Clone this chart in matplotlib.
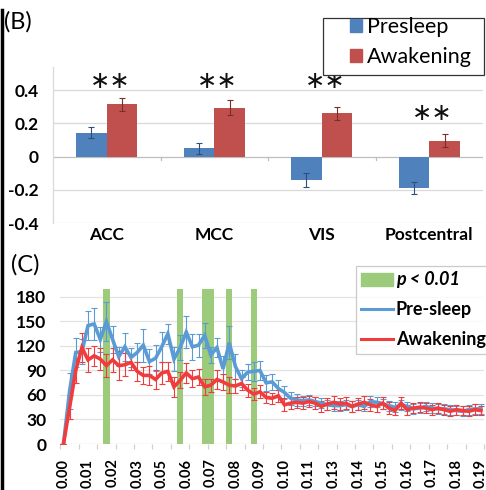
import matplotlib
matplotlib.use("Agg")
import matplotlib.pyplot as plt
import matplotlib.lines as mlines
import matplotlib.patches as mpatches
import numpy as np

plt.rcParams['font.family'] = ['Lato', 'DejaVu Sans']

# ---------------- Panel B data ----------------
regions = ["ACC", "MCC", "VIS", "Postcentral"]
presleep = [0.145, 0.05, -0.14, -0.19]
presleep_err = [0.035, 0.033, 0.042, 0.038]
awakening = [0.315, 0.295, 0.26, 0.095]
awakening_err = [0.04, 0.045, 0.037, 0.04]
star_y = [0.458, 0.458, 0.458, 0.262]
b_yticks = [-0.4, -0.2, 0, 0.2, 0.4]
b_yticklabels = ["-0.4", "-0.2", "0", "0.2", "0.4"]

# ---------------- Panel C data ----------------
pre_sleep = [0, 65, 112, 113, 145, 147, 128, 150, 128, 107,
             119, 106, 112, 121, 101, 105, 119, 135, 104, 118,
             137, 119, 121, 133, 109, 118, 92, 124, 95, 80,
             88, 89, 90, 75, 76, 68, 63, 56, 54, 53,
             54, 52, 50, 48, 47, 47, 48, 46, 48, 46,
             52, 51, 49, 47, 45, 48, 46, 43, 44, 46,
             44, 43, 43, 42, 41, 40, 42, 43, 43]
pre_sleep_err = [0, 22, 18, 15, 18, 20, 15, 24, 16, 12,
                 17, 12, 12, 20, 15, 16, 18, 12, 15, 15,
                 20, 16, 14, 15, 10, 12, 16, 20, 15, 10,
                 10, 12, 12, 10, 10, 10, 8, 8, 7, 6,
                 6, 6, 6, 6, 6, 6, 6, 7, 6, 6,
                 7, 6, 6, 6, 6, 6, 6, 6, 6, 6,
                 6, 6, 6, 6, 6, 6, 6, 6, 6]
awakening_c = [0, 45, 90, 118, 103, 108, 104, 96, 103, 96,
               97, 100, 89, 84, 84, 79, 87, 89, 70, 78,
               87, 80, 82, 70, 72, 79, 76, 72, 71, 74,
               66, 61, 64, 57, 56, 59, 48, 50, 51, 50,
               52, 50, 46, 49, 51, 49, 50, 46, 49, 51,
               48, 46, 50, 44, 41, 50, 42, 44, 45, 44,
               42, 44, 42, 40, 42, 41, 40, 42, 41]
awakening_c_err = [0, 15, 15, 18, 15, 12, 14, 14, 15, 18,
                   14, 10, 12, 10, 12, 12, 14, 12, 12, 10,
                   12, 10, 10, 10, 8, 12, 10, 10, 8, 8,
                   8, 7, 8, 7, 7, 7, 8, 7, 7, 7,
                   7, 7, 7, 7, 8, 7, 7, 7, 7, 8,
                   7, 7, 7, 7, 6, 7, 6, 6, 6, 6,
                   6, 6, 6, 6, 6, 6, 6, 7, 6]
sig_idx = [7, 19, 23, 24, 27, 31]
sig_height = 190
c_xticklabels = ["0.00", "0.01", "0.02", "0.03", "0.05", "0.06", "0.07", "0.08", "0.09",
                 "0.10", "0.11", "0.13", "0.14", "0.15", "0.16", "0.17", "0.18", "0.19"]
c_yticks = [0, 30, 60, 90, 120, 150, 180]

W, H = 486, 490
fig = plt.figure(figsize=(W / 100, H / 100), dpi=100)

def fx(px):
    return px / W

def fy(py):
    return 1 - py / H

grid_c = "#d9d9d9"

# ---------------- Panel B ----------------
axB = fig.add_axes([fx(53), fy(223), fx(483) - fx(53), fy(67) - fy(223)])
x = np.arange(len(regions))
bw = 0.285
blue_b = "#4f81bd"
red_b = "#c0504d"
axB.bar(x - bw / 2, presleep, bw, color=blue_b, zorder=3, label="Presleep")
axB.bar(x + bw / 2, awakening, bw, color=red_b, zorder=3, label="Awakening")
axB.errorbar(x - bw / 2, presleep, yerr=presleep_err, fmt="none", ecolor="#2d4f7a",
             elinewidth=0.8, capsize=2, capthick=0.8, zorder=4)
axB.errorbar(x + bw / 2, awakening, yerr=awakening_err, fmt="none", ecolor="#7a2e2c",
             elinewidth=0.8, capsize=2, capthick=0.8, zorder=4)
for xi, sy in zip(x, star_y):
    axB.text(xi + 0.03, sy, "∗∗", ha="center", va="center", fontsize=17.5,
             family=["DejaVu Sans"], color="#111111", zorder=5)
axB.set_xlim(-0.5, len(regions) - 0.5)
axB.set_ylim(-0.4, 0.54)
axB.set_yticks(b_yticks)
axB.set_yticklabels(b_yticklabels, fontweight="bold", fontsize=12.5)
for t in b_yticks:
    axB.axhline(t, color=grid_c if t != 0 else "#bfbfbf", lw=0.9, zorder=1)
# category boundary ticks on zero line
for bnd in np.arange(0.5, len(regions), 1.0):
    axB.plot([bnd, bnd], [0, -0.022], color="#bfbfbf", lw=0.9, zorder=1)
axB.set_xticks(x)
axB.set_xticklabels(regions, fontweight="bold", fontsize=12.5)
axB.tick_params(axis="both", length=0)
axB.tick_params(axis="x", pad=3)
axB.tick_params(axis="y", pad=10)
for s in ["top", "right", "bottom"]:
    axB.spines[s].set_visible(False)
axB.spines["left"].set_color("#d9d9d9")
axB.spines["left"].set_linewidth(0.9)

# legend B: frame drawn separately (wider than its contents, as in the reference)
fig.add_artist(mpatches.Rectangle((fx(323), fy(75)), fx(484) - fx(323), fy(18) - fy(75),
                                  transform=fig.transFigure, facecolor="white",
                                  edgecolor="#333333", lw=0.9, zorder=5))
legB = fig.legend(handles=[mpatches.Patch(color=blue_b, label="Presleep"),
                           mpatches.Patch(color=red_b, label="Awakening")],
                  loc="upper left", bbox_to_anchor=(fx(350), fy(17)),
                  frameon=False, fontsize=15.5, handlelength=0.55, handleheight=0.55,
                  handletextpad=0.25, labelspacing=0.45, borderpad=0.0,
                  borderaxespad=0)
legB.set_zorder(6)
fig.text(fx(4), fy(22), "(B)", fontsize=17, va="center", ha="left")

# ---------------- Panel C ----------------
axC = fig.add_axes([fx(60.4), fy(444), fx(484) - fx(60.4), fy(444 - 190 * 0.8167) - fy(444)])
n = len(pre_sleep)
xc = np.arange(n)
green = "#9bcb7b"
blue_c = "#5b9bd5"
red_c = "#f03c3c"
axC.bar(sig_idx, [sig_height] * len(sig_idx), width=1.0, color=green, zorder=2)
for t in c_yticks[1:]:
    axC.axhline(t, color="#e3e3e3", lw=0.9, zorder=1)
axC.axhline(0, color="#d0d0d0", lw=0.9, zorder=1)
axC.errorbar(xc, pre_sleep, yerr=pre_sleep_err, fmt="none", ecolor=blue_c,
             elinewidth=0.8, capsize=2.5, capthick=0.8, zorder=3)
axC.errorbar(xc, awakening_c, yerr=awakening_c_err, fmt="none", ecolor=red_c,
             elinewidth=0.8, capsize=2.5, capthick=0.8, zorder=3)
axC.plot(xc, pre_sleep, color=blue_c, lw=2.6, zorder=4, solid_joinstyle="miter")
axC.plot(xc, awakening_c, color=red_c, lw=2.6, zorder=5, solid_joinstyle="miter")
axC.set_xlim(-0.5, n - 0.5)
axC.set_ylim(0, sig_height)
axC.set_yticks(c_yticks)
axC.set_yticklabels([str(v) for v in c_yticks], fontweight="bold", fontsize=12.5)
axC.set_xticks(np.arange(0, n, 4))
axC.set_xticklabels(c_xticklabels, rotation=90, fontweight="bold", fontsize=10.5)
axC.set_xticks(np.arange(-0.5, n, 3), minor=True)
axC.tick_params(axis="x", which="major", length=0, pad=10.5)
axC.tick_params(axis="x", which="minor", length=3.5, color="#d0d0d0", width=0.9)
axC.tick_params(axis="y", length=0, pad=10)
for s in ["top", "right", "bottom", "left"]:
    axC.spines[s].set_visible(False)

hC = [mpatches.Patch(color=green, label="p < 0.01"),
      mlines.Line2D([], [], color=blue_c, lw=2.2, label="Pre-sleep"),
      mlines.Line2D([], [], color=red_c, lw=2.2, label="Awakening")]
legC = fig.legend(handles=hC, loc="upper left", bbox_to_anchor=(fx(356), fy(266)),
                  frameon=True, fancybox=False, edgecolor="#bfbfbf",
                  handlelength=1.75, handleheight=0.75,
                  handletextpad=0.15, labelspacing=0.72, borderpad=0.3,
                  borderaxespad=0, prop={"weight": "bold", "size": 13})
legC.get_frame().set_linewidth(0.9)
legC.get_texts()[0].set_fontstyle("italic")
fig.text(fx(11), fy(265), "(C)", fontsize=17, va="center", ha="left")

# left black border line
fig.add_artist(mlines.Line2D([fx(1.5), fx(1.5)], [fy(10), 0], color="black", lw=2.5,
                             transform=fig.transFigure))

fig.savefig("out.png", dpi=100)
